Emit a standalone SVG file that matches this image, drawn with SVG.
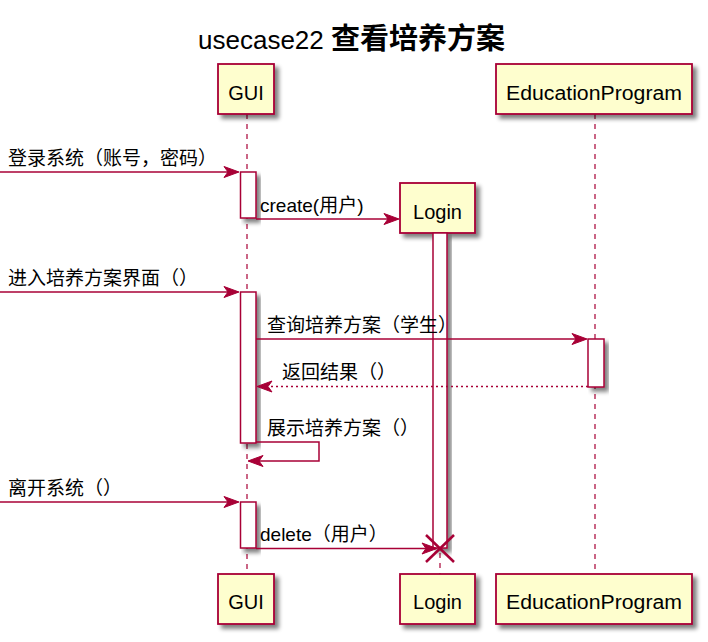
<svg xmlns="http://www.w3.org/2000/svg" width="708" height="642" viewBox="0 0 708 642">
<defs>
<filter id="sh" x="-20%" y="-20%" width="150%" height="150%">
<feGaussianBlur in="SourceAlpha" stdDeviation="2"/>
<feOffset dx="4" dy="4" result="b"/>
<feComponentTransfer><feFuncA type="linear" slope="0.5"/></feComponentTransfer>
<feMerge><feMergeNode/><feMergeNode in="SourceGraphic"/></feMerge>
</filter>
</defs>
<style>
.box{fill:#FEFECE;stroke:#A80036;stroke-width:1.8}
.act{fill:#FFFFFF;stroke:#A80036;stroke-width:1.5}
.life{stroke:#A80036;stroke-width:1.2;stroke-dasharray:5,5;fill:none}
.msg{stroke:#A80036;stroke-width:1.5;fill:none}
.ret{stroke:#A80036;stroke-width:1.5;fill:none;stroke-dasharray:2,3}
.head{fill:#A80036;stroke:#A80036;stroke-width:1}
.pn{font-family:"Liberation Sans","Noto Sans CJK SC",sans-serif;font-size:20px;fill:#000;text-anchor:middle}
.ml{font-family:"Liberation Sans","Noto Sans CJK SC",sans-serif;font-size:19px;fill:#000}
.t{font-family:"Liberation Sans","Noto Sans CJK SC",sans-serif;fill:#000}
</style>
<rect width="708" height="642" fill="#FFFFFF"/>
<text class="t" x="198" y="49"><tspan font-size="26">usecase22 </tspan><tspan font-size="29" font-weight="bold">查看培养方案</tspan></text>

<g id="lifelines">
<line class="life" x1="247" y1="114" x2="247" y2="574"/>
<line class="life" x1="440" y1="233" x2="440" y2="574"/>
<line class="life" x1="595" y1="114" x2="595" y2="574"/>
</g>

<g id="GUI">
<rect class="box" x="218" y="64" width="56" height="50" filter="url(#sh)"/>
<text class="pn" x="246" y="100">GUI</text>
<rect class="box" x="218" y="574" width="56" height="50" filter="url(#sh)"/>
<text class="pn" x="246" y="609">GUI</text>
<rect class="act" x="240.5" y="172" width="15.5" height="46" filter="url(#sh)"/>
<rect class="act" x="240.5" y="292" width="15.5" height="151" filter="url(#sh)"/>
<rect class="act" x="240.5" y="502" width="15.5" height="46" filter="url(#sh)"/>
</g>

<g id="Login">
<rect class="box" x="400" y="183" width="75" height="50" filter="url(#sh)"/>
<text class="pn" x="437.5" y="219">Login</text>
<rect class="act" x="433" y="233" width="14" height="315" filter="url(#sh)"/>
<rect class="box" x="400" y="574" width="75" height="50" filter="url(#sh)"/>
<text class="pn" x="437.5" y="609">Login</text>
</g>

<g id="EducationProgram">
<rect class="box" x="496" y="64" width="196" height="50" filter="url(#sh)"/>
<text class="pn" x="594" y="100" textLength="176" lengthAdjust="spacingAndGlyphs">EducationProgram</text>
<rect class="box" x="496" y="574" width="196" height="50" filter="url(#sh)"/>
<text class="pn" x="594" y="609" textLength="176" lengthAdjust="spacingAndGlyphs">EducationProgram</text>
<rect class="act" x="588" y="339" width="16" height="48" filter="url(#sh)"/>
</g>

<g id="connectors">
<line class="msg" x1="0" y1="172" x2="238" y2="172"/>
<polygon class="head" points="239,172 224,166.5 228,172 224,177.5"/>
<text class="ml" x="8" y="165">登录系统（账号，密码）</text>

<line class="msg" x1="256" y1="219" x2="398" y2="219"/>
<polygon class="head" points="399,219 384,213.5 388,219 384,224.5"/>
<text class="ml" x="260" y="212">create(用户)</text>

<line class="msg" x1="0" y1="292" x2="238" y2="292"/>
<polygon class="head" points="239,292 224,286.5 228,292 224,297.5"/>
<text class="ml" x="8" y="285">进入培养方案界面（）</text>

<line class="msg" x1="256" y1="339" x2="586" y2="339"/>
<polygon class="head" points="587,339 572,333.5 576,339 572,344.5"/>
<text class="ml" x="267" y="332">查询培养方案（学生）</text>

<line class="ret" x1="588" y1="386.5" x2="259" y2="386.5"/>
<polygon class="head" points="257,386.5 272,381 268,386.5 272,392"/>
<text class="ml" x="282" y="379">返回结果（）</text>

<polyline class="msg" points="256,442 319,442 319,461 249,461"/>
<polygon class="head" points="248,461 263,455.5 259,461 263,466.5"/>
<text class="ml" x="267" y="435">展示培养方案（）</text>

<line class="msg" x1="0" y1="502" x2="238" y2="502"/>
<polygon class="head" points="239,502 224,496.5 228,502 224,507.5"/>
<text class="ml" x="8" y="495">离开系统（）</text>

<line class="msg" x1="256" y1="548.5" x2="436" y2="548.5"/>
<polygon class="head" points="437,548.5 422,543 426,548.5 422,554"/>
<text class="ml" x="260" y="541">delete（用户）</text>
<line x1="426" y1="535" x2="454" y2="562" stroke="#A80036" stroke-width="2.5"/>
<line x1="426" y1="562" x2="454" y2="535" stroke="#A80036" stroke-width="2.5"/>
</g>
</svg>
